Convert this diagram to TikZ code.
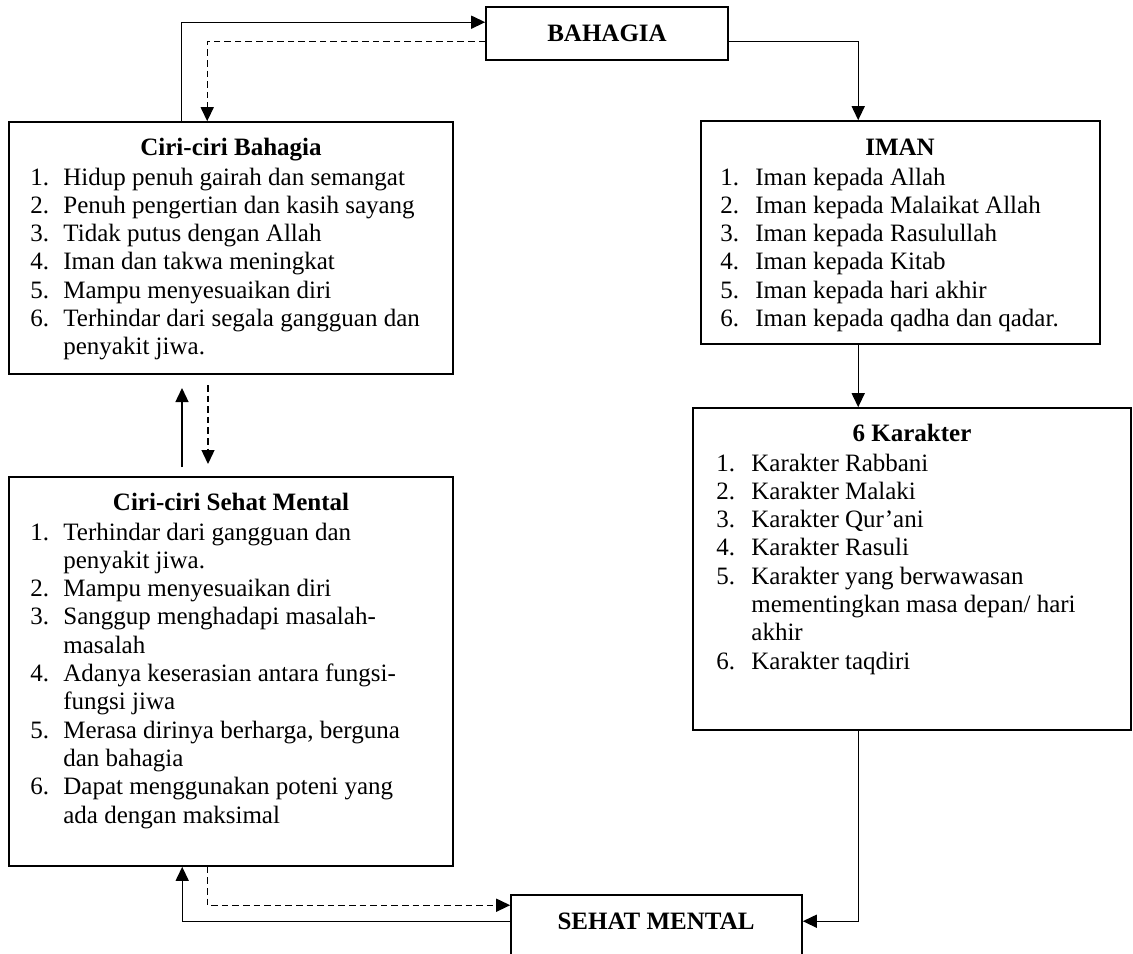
\documentclass[tikz,border=0pt]{standalone}
\usepackage{fontspec}
\setmainfont{Liberation Serif}
\usetikzlibrary{arrows.meta,calc,fit}
\begin{document}
\begin{tikzpicture}[x=0.5pt,y=-0.5pt,
  box/.style={draw, line width=0.8pt, inner sep=0pt},
  conn/.style={line width=0.7pt},
  arr/.style={conn,-{Triangle[length=7pt,width=6.5pt]}},
  dsh/.style={dash pattern=on 3.3pt off 2pt},
  ttl/.style={anchor=base, inner sep=0pt, font=\fontsize{12.5pt}{14.15pt}\selectfont\bfseries},
  lst/.style={anchor=base west, inner sep=0pt, font=\fontsize{12.5pt}{14.15pt}\selectfont}]
\useasboundingbox[fill=white] (0,0) rectangle (1133,953);

% boxes
\node[box, fit={(486,7) (728,60)}] (bahagia) {};
\node[box, fit={(9,122) (453,374)}] (bah) {};
\node[box, fit={(701,121) (1100,344)}] (iman) {};
\node[box, fit={(693,408) (1131,730)}] (kar) {};
\node[box, fit={(9,477) (453,866)}] (smlist) {};
\node[box, fit={(511,895) (802,975)}] (sehat) {};

% texts
\node[ttl] (tbahagia) at (607,41) {BAHAGIA};
\node[ttl] (tsehat) at (656,929) {SEHAT MENTAL};

\node[ttl] (tbah) at (231,155) {Ciri-ciri Bahagia};
\node[lst] (lbah) at (30,185) {\begin{tabular}[t]{@{}p{16.5pt}@{}l@{}}
1.&Hidup penuh gairah dan semangat\\
2.&Penuh pengertian dan kasih sayang\\
3.&Tidak putus dengan Allah\\
4.&Iman dan takwa meningkat\\
5.&Mampu menyesuaikan diri\\
6.&Terhindar dari segala gangguan dan\\
&penyakit jiwa.
\end{tabular}};

\node[ttl] (timan) at (900,155) {IMAN};
\node[lst] (liman) at (720,185) {\begin{tabular}[t]{@{}p{17.5pt}@{}l@{}}
1.&Iman kepada Allah\\
2.&Iman kepada Malaikat Allah\\
3.&Iman kepada Rasulullah\\
4.&Iman kepada Kitab\\
5.&Iman kepada hari akhir\\
6.&Iman kepada qadha dan qadar.
\end{tabular}};

\node[ttl] (tkar) at (912,441) {6 Karakter};
\node[lst] (lkar) at (716,471) {\begin{tabular}[t]{@{}p{17.5pt}@{}l@{}}
1.&Karakter Rabbani\\
2.&Karakter Malaki\\
3.&Karakter Qur’ani\\
4.&Karakter Rasuli\\
5.&Karakter yang berwawasan\\
&mementingkan masa depan/ hari\\
&akhir\\
6.&Karakter taqdiri
\end{tabular}};

\node[ttl] (tsm) at (231,510) {Ciri-ciri Sehat Mental};
\node[lst] (lsm) at (30,540) {\begin{tabular}[t]{@{}p{16.5pt}@{}l@{}}
1.&Terhindar dari gangguan dan\\
&penyakit jiwa.\\
2.&Mampu menyesuaikan diri\\
3.&Sanggup menghadapi masalah-\\
&masalah\\
4.&Adanya keserasian antara fungsi-\\
&fungsi jiwa\\
5.&Merasa dirinya berharga, berguna\\
&dan bahagia\\
6.&Dapat menggunakan poteni yang\\
&ada dengan maksimal
\end{tabular}};

% connectors
\draw[arr] ($(bah.north west)+(173,0)$) |- ($(bahagia.north west)+(0,16)$);
\draw[arr,dsh] ($(bahagia.north west)+(0,35)$) -| ($(bah.north west)+(199,0)$);
\draw[arr] ($(bahagia.north east)+(0,35)$) -| ($(iman.north west)+(158,0)$);
\draw[arr] ($(iman.south west)+(158,0)$) -- ($(kar.north west)+(166,0)$);
\draw[arr] ($(kar.south west)+(166,0)$) |- ($(sehat.north east)+(0,27)$);
\draw[arr] ($(sehat.north west)+(0,27)$) -| ($(smlist.south west)+(174,0)$);
\draw[arr,dsh] ($(smlist.south west)+(199,0)$) |- ($(sehat.north west)+(0,11)$);

\coordinate (ms1) at (182,467);
\coordinate (ms2) at (182,388);
\draw[arr] (ms1) -- (ms2);
\coordinate (md1) at (208,385);
\coordinate (md2) at (208,464);
\draw[arr,dsh] (md1) -- (md2);
\end{tikzpicture}
\end{document}
